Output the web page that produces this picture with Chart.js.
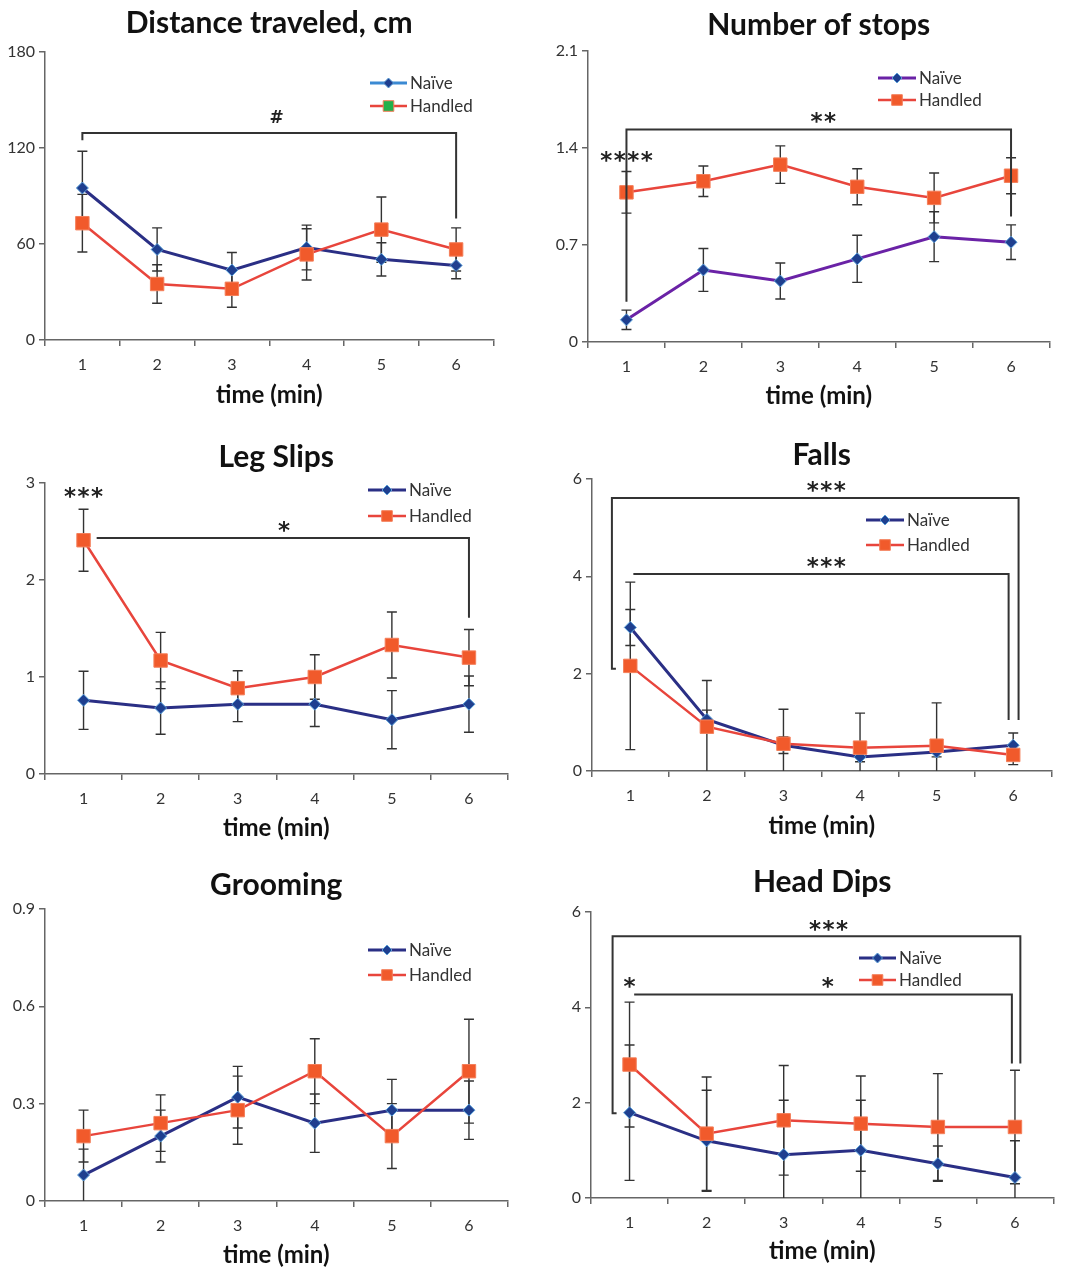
<!DOCTYPE html>
<html><head><meta charset="utf-8">
<script src="https://cdn.jsdelivr.net/npm/chart.js@4.4.1/dist/chart.umd.min.js"></script>
<style>
html,body{margin:0;padding:0;background:#fff;}
#wrap{position:relative;width:1066px;height:1271px;overflow:hidden;background:#fff;}
#wrap canvas{position:absolute;}
</style></head><body><div id="wrap"></div>
<script>
// ---------- DATA ----------
const categories = ['1','2','3','4','5','6'];
const seriesNames = ['Naïve','Handled'];
const xAxisTitle = 'time (min)';

// Distance traveled
const distanceTitle = 'Distance traveled, cm';
const distanceTicks = [0, 60, 120, 180];
const distanceNaive = [95, 56.6, 43.7, 57.8, 50.4, 46.6];
const distanceNaiveErr = [23, 13.5, 11, 14, 10.4, 8.3];
const distanceHandled = [73, 35, 32, 53.5, 69, 56.6];
const distanceHandledErr = [18, 12, 11.5, 16, 20.4, 13.5];
const distanceBrackets = [{x1: 0, x2: 5, y: 129.4, leftEnd: 124.8, rightEnd: 76, hook: false}];
const distanceMarks = [{text: '#', x: 2.6, y: 139.4}];

// Number of stops
const stopsTitle = 'Number of stops';
const stopsTicks = [0, 0.7, 1.4, 2.1];
const stopsNaive = [0.16, 0.52, 0.44, 0.60, 0.76, 0.72];
const stopsNaiveErr = [0.07, 0.155, 0.13, 0.17, 0.18, 0.125];
const stopsHandled = [1.08, 1.16, 1.28, 1.12, 1.04, 1.20];
const stopsHandledErr = [0.15, 0.11, 0.135, 0.13, 0.18, 0.13];
const stopsBrackets = [{x1: 0, x2: 5, y: 1.533, leftEnd: 0.29, rightEnd: 0.905, hook: false}];
const stopsMarks = [{text: '**', x: 2.56, y: 1.62}, {text: '****', x: 0, y: 1.337}];

// Leg slips
const slipsTitle = 'Leg Slips';
const slipsTicks = [0, 1, 2, 3];
const slipsNaive = [0.76, 0.68, 0.72, 0.72, 0.56, 0.72];
const slipsNaiveErr = [0.3, 0.27, 0.18, 0.23, 0.3, 0.29];
const slipsHandled = [2.41, 1.17, 0.885, 1.0, 1.33, 1.2];
const slipsHandledErr = [0.32, 0.29, 0.18, 0.23, 0.34, 0.29];
const slipsBrackets = [{x1: 0.17, x2: 5, y: 2.434, leftEnd: null, rightEnd: 1.61, hook: false}];
const slipsMarks = [{text: '*', x: 2.6, y: 2.55}, {text: '***', x: 0, y: 2.9}];

// Falls
const fallsTitle = 'Falls';
const fallsTicks = [0, 2, 4, 6];
const fallsNaive = [2.95, 1.06, 0.53, 0.29, 0.39, 0.53];
const fallsNaiveErr = [0.37, 0.19, 0.17, 0.1, 0.1, 0.25];
const fallsHandled = [2.16, 0.91, 0.56, 0.48, 0.52, 0.33];
const fallsHandledErr = [1.72, 0.95, 0.71, 0.71, 0.88, 0.2];
const fallsBrackets = [
  {x1: -0.24, x2: 5.07, y: 5.61, leftEnd: 2.10, rightEnd: 1.05, hook: true},
  {x1: 0.04, x2: 4.94, y: 4.05, leftEnd: null, rightEnd: 1.05, hook: false}
];
const fallsMarks = [{text: '***', x: 2.56, y: 5.84}, {text: '***', x: 2.56, y: 4.29}];

// Grooming
const groomTitle = 'Grooming';
const groomTicks = [0, 0.3, 0.6, 0.9];
const groomNaive = [0.08, 0.2, 0.32, 0.24, 0.28, 0.28];
const groomNaiveErr = [0.08, 0.08, 0.095, 0.09, 0.095, 0.09];
const groomHandled = [0.2, 0.24, 0.28, 0.4, 0.2, 0.4];
const groomHandledErr = [0.08, 0.087, 0.105, 0.1, 0.1, 0.16];
const groomBrackets = [];
const groomMarks = [];

// Head dips
const dipsTitle = 'Head Dips';
const dipsTicks = [0, 2, 4, 6];
const dipsNaive = [1.79, 1.2, 0.91, 1.0, 0.72, 0.43];
const dipsNaiveErr = [1.42, 1.06, 1.14, 1.05, 0.37, 0.77];
const dipsHandled = [2.8, 1.35, 1.63, 1.56, 1.49, 1.49];
const dipsHandledErr = [1.31, 1.19, 1.15, 1.0, 1.12, 1.19];
const dipsBrackets = [
  {x1: -0.22, x2: 5.07, y: 5.49, leftEnd: 1.78, rightEnd: 2.82, hook: true},
  {x1: 0.06, x2: 4.96, y: 4.27, leftEnd: null, rightEnd: 2.82, hook: false}
];
const dipsMarks = [{text: '***', x: 2.58, y: 5.72}, {text: '*', x: 2.57, y: 4.52}, {text: '*', x: 0, y: 4.52}];

// ---------- PANELS ----------
const panels = [
  {title: distanceTitle, ticks: distanceTicks, naive: distanceNaive, naiveErr: distanceNaiveErr, handled: distanceHandled, handledErr: distanceHandledErr, brackets: distanceBrackets, marks: distanceMarks},
  {title: stopsTitle, ticks: stopsTicks, naive: stopsNaive, naiveErr: stopsNaiveErr, handled: stopsHandled, handledErr: stopsHandledErr, brackets: stopsBrackets, marks: stopsMarks},
  {title: slipsTitle, ticks: slipsTicks, naive: slipsNaive, naiveErr: slipsNaiveErr, handled: slipsHandled, handledErr: slipsHandledErr, brackets: slipsBrackets, marks: slipsMarks},
  {title: fallsTitle, ticks: fallsTicks, naive: fallsNaive, naiveErr: fallsNaiveErr, handled: fallsHandled, handledErr: fallsHandledErr, brackets: fallsBrackets, marks: fallsMarks},
  {title: groomTitle, ticks: groomTicks, naive: groomNaive, naiveErr: groomNaiveErr, handled: groomHandled, handledErr: groomHandledErr, brackets: groomBrackets, marks: groomMarks},
  {title: dipsTitle, ticks: dipsTicks, naive: dipsNaive, naiveErr: dipsNaiveErr, handled: dipsHandled, handledErr: dipsHandledErr, brackets: dipsBrackets, marks: dipsMarks}
];

// ---------- LAYOUT / STYLE ----------
const layouts = [
  {L: 45, R: 493, T: 52, B: 340, titleMid: 23, xTitleMid: 395, lx1: 370, lx2: 407, ly: [83, 106], naiveLine: '#2a2f85', legNaiveLine: '#3b8ad3', legHandledFill: '#22b04b'},
  {L: 588, R: 1049, T: 51, B: 342, titleMid: 25, xTitleMid: 396, lx1: 878, lx2: 916, ly: [78, 100], naiveLine: '#6a22a6'},
  {L: 45, R: 507, T: 483, B: 774, titleMid: 457, xTitleMid: 828, lx1: 368, lx2: 406, ly: [490, 516], naiveLine: '#2a2f85'},
  {L: 592, R: 1051, T: 479, B: 771, titleMid: 455, xTitleMid: 826, lx1: 866, lx2: 904, ly: [520, 545], naiveLine: '#2a2f85'},
  {L: 45, R: 507, T: 909, B: 1201, titleMid: 885, xTitleMid: 1255, lx1: 368, lx2: 406, ly: [950, 975], naiveLine: '#2a2f85'},
  {L: 591, R: 1053, T: 912, B: 1198, titleMid: 882, xTitleMid: 1251, lx1: 859, lx2: 896, ly: [958, 980], naiveLine: '#2a2f85'}
];

const FONT = 'Lato, "Open Sans", "DejaVu Sans", sans-serif';
const STAR_FONT = '"DejaVu Sans", sans-serif';
Chart.defaults.font.family = FONT;
const TITLE_SIZE = 30, TITLE_LH = TITLE_SIZE * 1.2;
const XT_SIZE = 24, XT_LH = XT_SIZE * 1.2;
const TICK_SIZE = 16;
const WY = 45, RPAD = 4;
const AXIS_COLOR = '#666';
const HANDLED_LINE = '#e8453c', HANDLED_FILL = '#f15a2b', HANDLED_BORDER = '#f47f5a';
const NAIVE_FILL = '#1f3f8f', NAIVE_BORDER = '#5a9fd8';

function makePlugin(p, g, left, top) {
  return {
    id: 'extras',
    beforeDatasetsDraw(chart) {
      const ctx = chart.ctx, ys = chart.scales.y;
      ctx.save();
      ctx.strokeStyle = '#333';
      ctx.lineWidth = 1.4;
      chart.data.datasets.forEach((ds, di) => {
        const meta = chart.getDatasetMeta(di);
        meta.data.forEach((pt, i) => {
          const v = ds.data[i], e = ds.errors[i];
          const lo = Math.max(v - e, ys.min), hi = Math.min(v + e, ys.max);
          const px = pt.x;
          const yl = ys.getPixelForValue(lo), yh = ys.getPixelForValue(hi);
          ctx.beginPath();
          ctx.moveTo(px, yl); ctx.lineTo(px, yh);
          if (v - e > ys.min) { ctx.moveTo(px - 5, yl); ctx.lineTo(px + 5, yl); }
          ctx.moveTo(px - 5, yh); ctx.lineTo(px + 5, yh);
          ctx.stroke();
        });
      });
      ctx.restore();
    },
    afterDatasetsDraw(chart) {
      const ctx = chart.ctx, xs = chart.scales.x, ys = chart.scales.y;
      ctx.save();
      // significance brackets
      ctx.strokeStyle = '#333';
      ctx.lineWidth = 2;
      p.brackets.forEach(b => {
        const x1 = xs.getPixelForValue(b.x1), x2 = xs.getPixelForValue(b.x2);
        const y = ys.getPixelForValue(b.y);
        ctx.beginPath();
        if (b.leftEnd !== null) {
          const yl = ys.getPixelForValue(b.leftEnd);
          ctx.moveTo(b.hook ? x1 + 4 : x1, yl);
          ctx.lineTo(x1, yl);
          ctx.lineTo(x1, y);
        } else {
          ctx.moveTo(x1, y);
        }
        ctx.lineTo(x2, y);
        ctx.lineTo(x2, ys.getPixelForValue(b.rightEnd));
        ctx.stroke();
      });
      // significance marks (each symbol drawn separately with fixed pitch)
      ctx.fillStyle = '#222';
      ctx.textAlign = 'center';
      ctx.textBaseline = 'alphabetic';
      p.marks.forEach(m => {
        const isHash = m.text === '#';
        ctx.font = 'bold ' + (isHash ? 17 : 23) + 'px ' + STAR_FONT;
        const chars = m.text.split('');
        const pitch = 13.5;
        const cx = xs.getPixelForValue(m.x), cy = ys.getPixelForValue(m.y);
        chars.forEach((ch, k) => {
          const mt = ctx.measureText(ch);
          const x = cx + (k - (chars.length - 1) / 2) * pitch;
          ctx.fillText(ch, x, cy + (mt.actualBoundingBoxAscent - mt.actualBoundingBoxDescent) / 2);
        });
      });
      // legend
      chart.data.datasets.forEach((ds, k) => {
        const y = g.ly[k] - top;
        const x1 = g.lx1 - left, x2 = g.lx2 - left;
        let lineCol = ds.borderColor, fill = ds.pointBackgroundColor;
        if (k === 0 && g.legNaiveLine) lineCol = g.legNaiveLine;
        if (k === 1 && g.legHandledFill) fill = g.legHandledFill;
        ctx.strokeStyle = lineCol;
        ctx.lineWidth = ds.borderWidth;
        ctx.beginPath(); ctx.moveTo(x1, y); ctx.lineTo(x2, y); ctx.stroke();
        ctx.fillStyle = fill;
        ctx.strokeStyle = ds.pointBorderColor;
        ctx.lineWidth = 1;
        Chart.helpers.drawPoint(ctx, {pointStyle: ds.pointStyle, radius: k === 0 ? 5 : 7.5, borderWidth: 1, rotation: 0}, (x1 + x2) / 2, y);
        ctx.fillStyle = '#333';
        ctx.font = '17px ' + FONT;
        ctx.textAlign = 'left';
        ctx.textBaseline = 'middle';
        ctx.fillText(ds.label, x2 + 3, y + 1);
      });
      ctx.restore();
    }
  };
}

function buildChart(p, g, geo) {
  const cv = document.createElement('canvas');
  cv.width = geo.width; cv.height = geo.height;
  cv.style.left = geo.left + 'px'; cv.style.top = geo.top + 'px';
  cv.style.width = geo.width + 'px'; cv.style.height = geo.height + 'px';
  document.getElementById('wrap').appendChild(cv);
  const chart = new Chart(cv.getContext('2d'), {
    type: 'line',
    data: {
      labels: categories,
      datasets: [
        {label: seriesNames[0], data: p.naive, errors: p.naiveErr, order: 2,
         borderColor: g.naiveLine, borderWidth: 3, tension: 0, fill: false,
         pointStyle: 'rectRot', pointRadius: 6, pointBackgroundColor: NAIVE_FILL,
         pointBorderColor: NAIVE_BORDER, pointBorderWidth: 1},
        {label: seriesNames[1], data: p.handled, errors: p.handledErr, order: 1,
         borderColor: HANDLED_LINE, borderWidth: 2.5, tension: 0, fill: false,
         pointStyle: 'rect', pointRadius: 9.5, pointBackgroundColor: HANDLED_FILL,
         pointBorderColor: HANDLED_BORDER, pointBorderWidth: 1}
      ]
    },
    options: {
      responsive: false,
      maintainAspectRatio: false,
      animation: false,
      events: [],
      clip: false,
      layout: {padding: {left: 0, right: RPAD, top: 0, bottom: 0}},
      plugins: {
        legend: {display: false},
        tooltip: {enabled: false},
        title: {display: true, text: p.title, fullSize: false, color: '#111',
                font: {size: TITLE_SIZE, weight: 'bold', family: FONT, lineHeight: 1.2},
                padding: {top: geo.tPadTop, bottom: geo.tPadBottom}}
      },
      scales: {
        x: {
          type: 'category', offset: true,
          grid: {offset: true, drawOnChartArea: false, drawTicks: true, tickLength: 6, color: AXIS_COLOR, lineWidth: 1.5},
          border: {display: true, color: AXIS_COLOR, width: 1.5},
          ticks: {font: {size: TICK_SIZE, family: FONT}, color: '#333', padding: 9, maxRotation: 0},
          title: {display: true, text: xAxisTitle, color: '#111',
                  font: {size: XT_SIZE, weight: 'bold', family: FONT, lineHeight: 1.2},
                  padding: {top: 0, bottom: geo.xPadBottom}},
          afterFit: s => { s.height = geo.HX; }
        },
        y: {
          type: 'linear', min: p.ticks[0], max: p.ticks[p.ticks.length - 1],
          afterBuildTicks: s => { s.ticks = p.ticks.map(v => ({value: v})); },
          grid: {drawOnChartArea: false, drawTicks: true, tickLength: 6, color: AXIS_COLOR, lineWidth: 1.5},
          border: {display: true, color: AXIS_COLOR, width: 1.5},
          ticks: {font: {size: TICK_SIZE, family: FONT}, color: '#333', padding: 4, callback: v => String(v)},
          afterFit: s => { s.width = WY; }
        }
      }
    },
    plugins: [makePlugin(p, g, geo.left, geo.top)]
  });
  return {chart, cv};
}

panels.forEach((p, idx) => {
  const g = layouts[idx];
  const left = g.L - WY;
  const top = Math.round(g.titleMid - TITLE_LH / 2 - 2);
  const tPadTop = g.titleMid - TITLE_LH / 2 - top;
  const bottom = Math.round(g.xTitleMid + XT_LH / 2 + 2);
  const geo = {
    left, top, tPadTop,
    tPadBottom: g.T - top - tPadTop - TITLE_LH,
    xPadBottom: bottom - g.xTitleMid - XT_LH / 2,
    HX: bottom - g.B,
    width: g.R + RPAD - left,
    height: bottom - top
  };
  // build, then correct the canvas so that the plot area lands where intended
  for (let it = 0; it < 4; it++) {
    const {chart, cv} = buildChart(p, g, geo);
    const ca = chart.chartArea;
    const dx = (g.R - left) - ca.right;
    const dt = (g.T - top) - ca.top;
    if ((Math.abs(dx) < 0.6 && Math.abs(dt) < 0.6) || it === 3) break;
    chart.destroy();
    cv.remove();
    geo.width = Math.round(geo.width + dx);
    geo.tPadBottom += dt;
  }
});
</script></body></html>
